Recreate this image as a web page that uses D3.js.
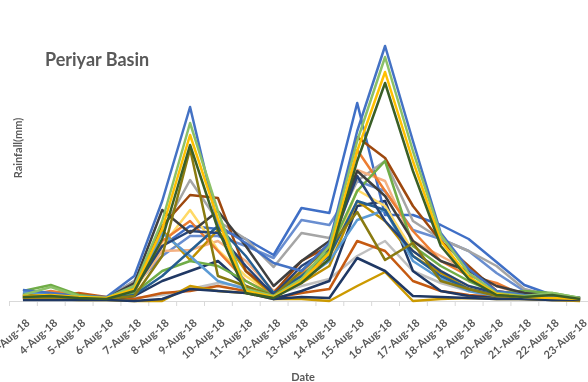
<!DOCTYPE html>
<html>
<head>
<meta charset="utf-8">
<script src="https://cdn.jsdelivr.net/npm/d3@7"></script>
<style>
  body { margin: 0; background: #fff; }
  svg { display: block; font-family: Lato, "Open Sans", sans-serif; filter: blur(0.35px); }
</style>
</head>
<body>
<svg id="chart" width="588" height="382"></svg>
<script>
// dates on the x axis
const dates = ["3-Aug-18", "4-Aug-18", "5-Aug-18", "6-Aug-18", "7-Aug-18", "8-Aug-18", "9-Aug-18",
  "10-Aug-18", "11-Aug-18", "12-Aug-18", "13-Aug-18", "14-Aug-18", "15-Aug-18", "16-Aug-18",
  "17-Aug-18", "18-Aug-18", "19-Aug-18", "20-Aug-18", "21-Aug-18", "22-Aug-18", "23-Aug-18"];

// rainfall per station (mm)
const grayLow     = [2, 3, 2, 2, 3, 6, 12, 18, 14, 6, 15, 22, 45, 60, 30, 18, 10, 4, 2, 2, 1];
const brownLow    = [3, 4, 8, 4, 2, 8, 10, 15, 10, 3, 8, 12, 60, 50, 20, 10, 6, 4, 3, 2, 1];
const darkNavy2   = [5, 3, 2, 2, 5, 20, 30, 40, 15, 2, 10, 20, 95, 100, 30, 10, 5, 3, 2, 1, 1];
const blueLight   = [6, 5, 3, 2, 15, 45, 65, 65, 55, 43, 81, 76, 120, 110, 71, 62, 50, 28, 10, 5, 2];
const bluePlateau = [8, 6, 4, 3, 20, 55, 75, 72, 62, 46, 93, 88, 198, 86, 86, 76, 62, 39, 16, 6, 3];
const grayMid     = [5, 6, 4, 3, 20, 70, 121, 80, 62, 34, 68, 63, 120, 140, 80, 62, 50, 35, 12, 5, 3];
const peach       = [4, 5, 4, 2, 12, 50, 51, 60, 40, 10, 30, 45, 131, 120, 60, 45, 30, 15, 6, 4, 2];
const lightGold   = [3, 4, 3, 2, 10, 55, 91, 51, 25, 6, 22, 40, 111, 95, 50, 30, 15, 6, 3, 2, 1];
const darkGold    = [3, 3, 2, 2, 8, 71, 41, 71, 30, 5, 18, 35, 100, 80, 45, 28, 12, 5, 3, 2, 1];
const orangeMid   = [5, 10, 6, 3, 15, 60, 80, 50, 20, 6, 28, 40, 151, 110, 70, 40, 25, 18, 5, 3, 2];
const brownMid    = [4, 6, 6, 3, 10, 75, 106, 103, 30, 8, 40, 55, 164, 143, 95, 60, 35, 10, 6, 4, 2];
const greenMid    = [10, 16, 6, 3, 8, 30, 40, 35, 20, 5, 25, 50, 110, 140, 55, 35, 20, 8, 10, 8, 3];
const skyCross    = [9, 6, 4, 3, 10, 68, 45, 20, 12, 4, 20, 40, 81, 91, 40, 22, 10, 5, 3, 2, 1];
const steelCross  = [4, 5, 3, 2, 6, 25, 50, 75, 45, 8, 25, 45, 100, 91, 45, 25, 12, 6, 4, 3, 2];
const navyMid     = [3, 4, 3, 2, 12, 55, 70, 68, 35, 6, 35, 52, 125, 80, 50, 30, 15, 8, 5, 3, 2];
const darkGray    = [6, 5, 4, 3, 18, 91, 68, 90, 55, 15, 40, 60, 130, 105, 60, 40, 30, 15, 8, 5, 3];
const oliveNarrow = [3, 4, 3, 2, 5, 45, 152, 25, 15, 5, 30, 54, 89, 41, 58, 20, 12, 5, 3, 2, 1];
const goldBottom  = [2, 2, 1, 1, 0, 0, 15, 10, 8, 2, 2, 0, 15, 29, 0, 2, 3, 2, 2, 1, 0];
const navyBottom  = [1, 1, 1, 1, 0, 2, 12, 10, 8, 2, 4, 3, 43, 30, 5, 4, 3, 2, 2, 1, 1];
const blueTall    = [11, 8, 5, 4, 25, 100, 194, 76, 58, 38, 30, 58, 170, 255, 160, 68, 32, 10, 6, 4, 3];
const greenTall   = [6, 14, 5, 3, 15, 80, 178, 90, 12, 5, 22, 55, 160, 244, 150, 66, 28, 8, 5, 8, 3];
const yellowTall  = [5, 6, 4, 3, 12, 72, 166, 82, 10, 4, 20, 48, 150, 229, 140, 60, 24, 7, 4, 3, 2];
const darkGreenTall = [4, 5, 3, 2, 10, 62, 156, 72, 8, 3, 18, 42, 140, 218, 130, 55, 22, 6, 4, 6, 2];

const seriesValues = [grayLow, brownLow, darkNavy2, blueLight, bluePlateau, grayMid, peach, lightGold,
  darkGold, orangeMid, brownMid, greenMid, skyCross, steelCross, navyMid, darkGray, oliveNarrow,
  goldBottom, navyBottom, blueTall, greenTall, yellowTall, darkGreenTall];
const seriesColors = ["#BFBFBF", "#C55A11", "#203864", "#698ED0", "#3F6FC6", "#A5A5A5", "#F4B183", "#FFD966",
  "#BF9000", "#ED7D31", "#9E480E", "#70AD47", "#5B9BD5", "#255E91", "#264478", "#3F3F3F", "#8A7B10",
  "#CC9A00", "#1F3864", "#4472C4", "#8CC168", "#FFC000", "#3A5F27"];

const svg = d3.select("#chart");
const baseY = 301;

const x = d3.scaleBand().domain(dates).range([9, 594]).padding(0);
const y = d3.scaleLinear().domain([0, 256]).range([baseY, 45]);
const cx = d => x(d) + x.bandwidth() / 2;

// title
svg.append("text")
  .attr("x", 45).attr("y", 66)
  .attr("font-size", 18).attr("font-weight", "bold")
  .attr("fill", "#595959")
  .text("Periyar Basin");

// y axis title
svg.append("text")
  .attr("transform", "translate(22,148) rotate(-90)")
  .attr("text-anchor", "middle")
  .attr("font-size", 11).attr("font-weight", "bold")
  .attr("fill", "#595959")
  .text("Rainfall(mm)");

// x axis
const xAxis = svg.append("g")
  .attr("transform", `translate(0,${baseY})`)
  .call(d3.axisBottom(x).tickSize(0));
xAxis.select(".domain").remove();
xAxis.selectAll("text")
  .attr("x", 0).attr("y", 0).attr("dy", "0.35em")
  .attr("text-anchor", "end")
  .attr("transform", "translate(5,20) rotate(-42)")
  .attr("font-family", "Lato, 'Open Sans', sans-serif")
  .attr("font-size", 11).attr("font-weight", "bold")
  .attr("fill", "#595959");

svg.append("line")
  .attr("x1", 9).attr("x2", 588)
  .attr("y1", baseY + 0.5).attr("y2", baseY + 0.5)
  .attr("stroke", "#d9d9d9");
svg.append("g").selectAll("line")
  .data(dates)
  .join("line")
  .attr("x1", d => x(d) + 0.5).attr("x2", d => x(d) + 0.5)
  .attr("y1", baseY).attr("y2", baseY + 5)
  .attr("stroke", "#d9d9d9");

// x axis title
svg.append("text")
  .attr("x", 303).attr("y", 381)
  .attr("text-anchor", "middle")
  .attr("font-size", 11).attr("font-weight", "bold")
  .attr("fill", "#595959")
  .text("Date");

// lines
const line = d3.line()
  .x((v, i) => cx(dates[i]))
  .y(v => y(v));

svg.append("g").selectAll("path")
  .data(seriesValues)
  .join("path")
  .attr("fill", "none")
  .attr("stroke", (d, i) => seriesColors[i])
  .attr("stroke-width", 2.5)
  .attr("stroke-linejoin", "round")
  .attr("d", line);
</script>
</body>
</html>
